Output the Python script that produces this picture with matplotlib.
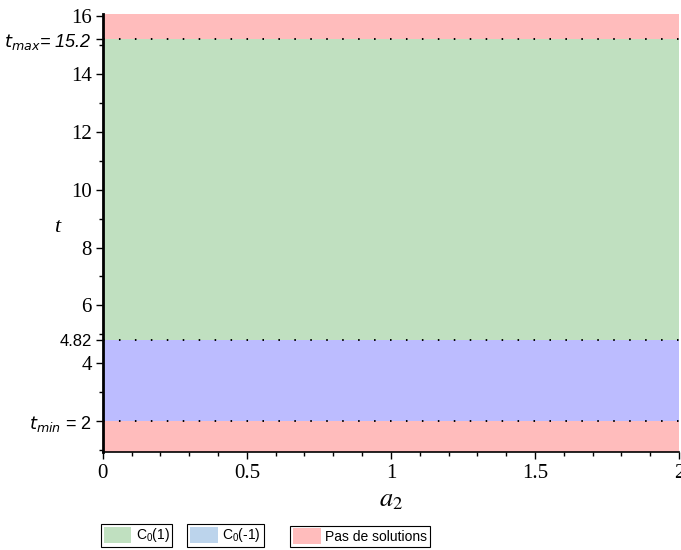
import matplotlib
matplotlib.use("Agg")
import matplotlib.pyplot as plt
from matplotlib.patches import Patch
from matplotlib.font_manager import FontProperties
from matplotlib.ticker import MultipleLocator

plt.rcParams["mathtext.fontset"] = "stix"
plt.rcParams["mathtext.rm"] = "Liberation Sans"
plt.rcParams["mathtext.it"] = "Liberation Sans:italic"

# region boundaries along t
t_low, t_min, t_c, t_max, t_high = 0.95, 2.0, 4.82, 15.2, 16.06
a_range = [0, 2]

region_bounds = [(t_low, t_min), (t_min, t_c), (t_c, t_max), (t_max, t_high)]
region_colors = ["#ffbcbc", "#bcbcff", "#c0e0c0", "#ffbcbc"]

y_ticks = [2, 4, 4.82, 6, 8, 10, 12, 14, 15.2, 16]
y_labels = [r"$t_{min}$ = 2", "4", "4.82", "6", "8", "10", "12", "14", r"$t_{max}$= 15.2", "16"]
x_ticks = [0, 0.5, 1, 1.5, 2]
x_labels = ["0", "0.5", "1", "1.5", "2"]

legend_labels = [r"$\mathrm{C}_\mathrm{0}$(1)", r"$\mathrm{C}_\mathrm{0}$(-1) ", "Pas de solutions"]
legend_colors = ["#c0e0c0", "#bcd4ec", "#ffbcbc"]

fig = plt.figure(figsize=(6.81, 5.5), dpi=100)
ax = fig.add_axes([0.151, 0.179, 0.846, 0.795])

for (lo, hi), c in zip(region_bounds, region_colors):
    ax.fill_between(a_range, lo, hi, color=c, linewidth=0)

for yv in [t_min, t_c, t_max]:
    ax.axhline(yv, color="black", lw=1.4, linestyle=(0, (0.8, 7.4)))

ax.set_xlim(0, 2)
ax.set_ylim(t_low, t_high)

ax.spines["top"].set_visible(False)
ax.spines["right"].set_visible(False)
ax.spines["left"].set_linewidth(2)
ax.spines["bottom"].set_linewidth(1.2)

ax.set_xticks(x_ticks)
ax.set_xticklabels(x_labels)
ax.xaxis.set_minor_locator(MultipleLocator(0.1))
ax.set_yticks(y_ticks)
ax.set_yticklabels(y_labels)
ax.yaxis.set_minor_locator(MultipleLocator(1))

ax.tick_params(which="major", length=5, width=1, color="black", pad=3, labelsize=15)
ax.tick_params(which="minor", length=3, width=1, color="black")
ax.tick_params(axis="x", pad=4)

for lab in ax.get_xticklabels():
    lab.set_fontfamily("Liberation Serif")
for lab in ax.get_yticklabels():
    txt = lab.get_text()
    if txt == "4.82":
        lab.set_fontfamily("Liberation Sans")
        lab.set_fontsize(12)
    elif "t_" in txt:
        lab.set_fontfamily("Liberation Sans")
        lab.set_math_fontfamily("dejavusans")
        lab.set_fontsize(13)
        if "max" in txt:
            lab.set_fontstyle("italic")
    else:
        lab.set_fontfamily("Liberation Serif")

ax.set_ylabel("t", fontfamily="Liberation Serif", fontstyle="italic", fontsize=16, rotation=0)
ax.yaxis.set_label_coords(-0.08, 0.49)
ax.set_xlabel(r"$a_2$", fontsize=19)
ax.xaxis.set_label_coords(0.5, -0.08)

x_pos = [0.148, 0.275, 0.426]
for lab, c, xp in zip(legend_labels, legend_colors, x_pos):
    fp = FontProperties(family=["Liberation Sans", "DejaVu Sans"], size=10,
                        math_fontfamily="custom")
    leg = fig.legend(handles=[Patch(facecolor=c, edgecolor="none", label=lab)],
                     loc="lower left", bbox_to_anchor=(xp, 0.005), frameon=True,
                     fancybox=False, edgecolor="black", framealpha=1,
                     handlelength=2.0, handleheight=1.4, handletextpad=0.3,
                     borderpad=0.2, borderaxespad=0, prop=fp)
    leg.get_frame().set_linewidth(0.8)

fig.savefig("out.png", dpi=100)
